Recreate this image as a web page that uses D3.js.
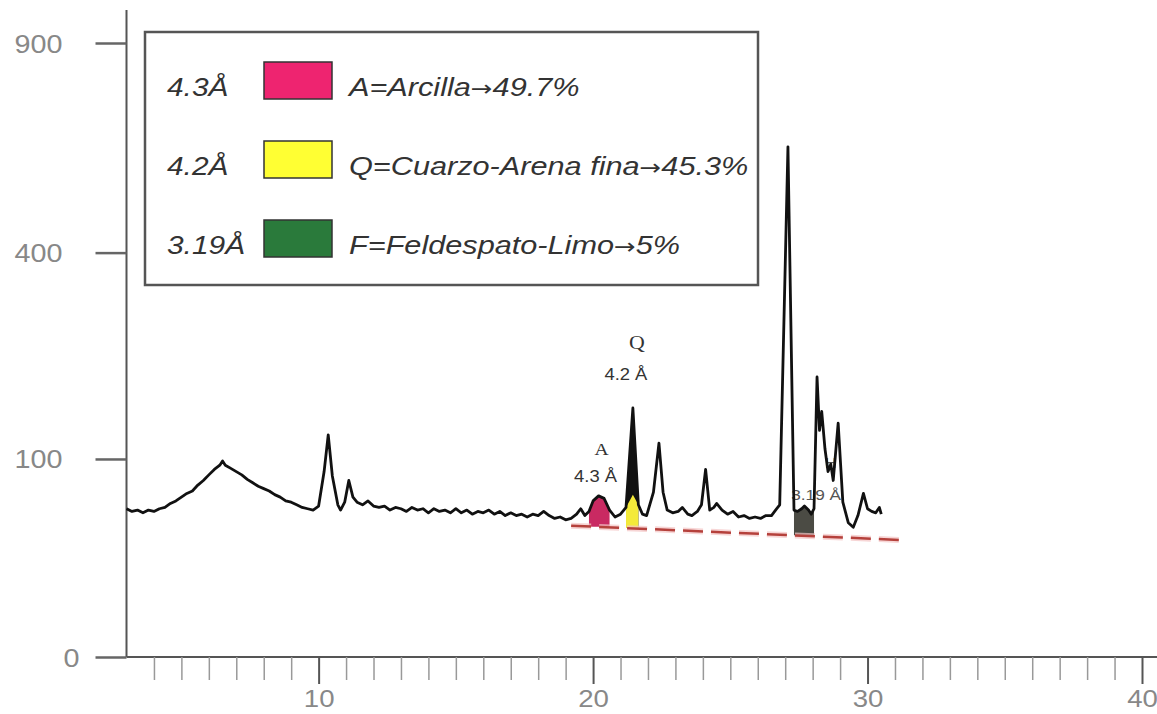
<!DOCTYPE html>
<html>
<head>
<meta charset="utf-8">
<script src="https://cdn.jsdelivr.net/npm/d3@7"></script>
<style>
  body { margin: 0; background: #fff; }
  svg { display: block; font-family: "Liberation Sans", Arial, sans-serif; }
</style>
</head>
<body>
<svg id="chart" width="1157" height="714"></svg>
<script>
// diffractogram (2θ, counts)
const twoTheta = [
  3.0, 3.2, 3.4, 3.6, 3.8, 4.0, 4.2, 4.4, 4.6, 4.8, 5.0, 5.2, 5.4, 5.6, 5.8,
  6.0, 6.2, 6.4, 6.5, 6.6, 6.8, 7.0, 7.2, 7.4, 7.6, 7.8, 8.0, 8.2, 8.4, 8.6,
  8.8, 9.0, 9.2, 9.4, 9.6, 9.8, 10.0, 10.2, 10.35, 10.5, 10.7, 10.8, 10.95, 11.1, 11.25,
  11.4, 11.6, 11.8, 12.0, 12.2, 12.4, 12.6, 12.8, 13.0, 13.2, 13.4, 13.6, 13.8, 14.0, 14.2,
  14.4, 14.6, 14.8, 15.0, 15.2, 15.4, 15.6, 15.8, 16.0, 16.2, 16.4, 16.6, 16.8, 17.0, 17.2,
  17.4, 17.6, 17.8, 18.0, 18.2, 18.4, 18.6, 18.8, 19.0, 19.2, 19.4, 19.55, 19.7, 19.85, 20.0,
  20.2, 20.4, 20.6, 20.8, 21.0, 21.2, 21.45, 21.65, 21.8, 21.95, 22.2, 22.4, 22.55, 22.7, 22.9,
  23.1, 23.25, 23.45, 23.6, 23.8, 23.95, 24.1, 24.25, 24.4, 24.5, 24.7, 24.9, 25.1, 25.3, 25.5,
  25.7, 25.9, 26.1, 26.3, 26.5, 26.65, 26.8, 27.1, 27.32, 27.45, 27.6, 27.7, 27.85, 27.95, 28.05,
  28.16, 28.25, 28.33, 28.45, 28.56, 28.66, 28.75, 28.93, 29.1, 29.3, 29.48, 29.65, 29.85, 30.0, 30.15,
  30.3, 30.43, 30.5
];
const counts = [
  57, 55, 56, 54, 56, 55, 57, 58, 61, 63, 66, 69, 71, 76, 80,
  85, 90, 94, 98, 94, 91, 88, 85, 81, 78, 75, 73, 71, 68, 66,
  63, 62, 60, 58, 57, 56, 59, 88, 125, 84, 60, 56, 62, 80, 66,
  62, 60, 63, 59, 58, 59, 56, 58, 57, 55, 58, 56, 57, 54, 57,
  55, 56, 54, 57, 54, 56, 53, 55, 54, 56, 53, 55, 52, 54, 52,
  53, 51, 53, 52, 55, 52, 50, 51, 49, 50, 53, 57, 52, 55, 63,
  67, 65, 56, 51, 53, 58, 156, 60, 53, 52, 70, 116, 70, 56, 54,
  55, 58, 53, 52, 55, 60, 90, 56, 58, 61, 56, 53, 55, 51, 52,
  50, 51, 50, 52, 52, 56, 60, 628, 56, 55, 57, 59, 56, 53, 57,
  196, 130, 152, 110, 88, 95, 80, 138, 62, 47, 44, 52, 69, 57, 55,
  54, 58, 53
];

// dashed background line under the peaks
const baseTheta = [19.2, 31.2];
const baseCounts = [45, 36];

// tick values
const yTickValues = [0, 100, 400, 900];
const xTickLabels = [10, 20, 30, 40];

// legend
const legendPeaks = ["4.3Å", "4.2Å", "3.19Å"];
const legendNames = [["A=Arcilla", "49.7%"], ["Q=Cuarzo-Arena fina", "45.3%"], ["F=Feldespato-Limo", "5%"]];
const legendColors = ["#ee2470", "#ffff33", "#2a7a3b"];

// shaded peaks: [from 2θ, to 2θ]
const peakRanges = [[19.85, 20.6], [21.2, 21.65], [27.32, 28.05]];
const peakFills = ["#c92a62", "#f4ea3a", "#4b4b44"];

const svg = d3.select("#chart");
const SX = 1.15; // glyphs in the picture are stretched sideways

const x = d3.scaleLinear().domain([3, 40]).range([126.5, 1142]);
const y = d3.scalePow().exponent(0.515).domain([0, 900]).range([657, 43]);

const data = twoTheta.map((t, i) => ({ t, c: counts[i] }));
const base = d3.scaleLinear().domain(baseTheta).range(baseCounts);

// ---- axes ----
const axisColor = "#555";

svg.append("line")
  .attr("x1", x(3)).attr("x2", x(3))
  .attr("y1", 10).attr("y2", y(0))
  .attr("stroke", axisColor).attr("stroke-width", 2);

svg.append("line")
  .attr("x1", x(3)).attr("x2", 1157)
  .attr("y1", y(0)).attr("y2", y(0))
  .attr("stroke", axisColor).attr("stroke-width", 2);

const yAxis = svg.append("g")
  .attr("transform", `translate(${x(3)},0)`)
  .call(d3.axisLeft(y).tickValues(yTickValues).tickSize(31).tickFormat(d3.format("d")));
yAxis.select(".domain").remove();
yAxis.selectAll(".tick line").attr("stroke", "#666").attr("stroke-width", 2.5);
yAxis.selectAll(".tick text")
  .attr("x", null).attr("dy", null)
  .attr("fill", "#888")
  .style("font-size", "25px")
  .attr("text-anchor", "end")
  .attr("transform", d => `translate(${d === 0 ? -47 : -64},9) scale(${SX},1)`);

const minorTicks = d3.range(4, 41).filter(v => !xTickLabels.includes(v));
const xMinor = svg.append("g")
  .attr("transform", `translate(0,${y(0)})`)
  .call(d3.axisBottom(x).tickValues(minorTicks).tickSize(23).tickFormat(""));
xMinor.select(".domain").remove();
xMinor.selectAll(".tick line").attr("stroke", "#999").attr("stroke-width", 1.5);

const xMajor = svg.append("g")
  .attr("transform", `translate(0,${y(0)})`)
  .call(d3.axisBottom(x).tickValues(xTickLabels).tickSize(27).tickFormat(d3.format("d")));
xMajor.select(".domain").remove();
xMajor.selectAll(".tick line").attr("stroke", "#555").attr("stroke-width", 2);
xMajor.selectAll(".tick text")
  .attr("y", null).attr("dy", null)
  .attr("fill", "#888")
  .style("font-size", "24px")
  .attr("text-anchor", "middle")
  .attr("transform", `translate(0,50) scale(${SX},1)`);

// ---- shaded peaks ----
const area = d3.area()
  .x(d => x(d.t))
  .y0(d => y(base(d.t)))
  .y1(d => y(d.c));

peakRanges.forEach((r, i) => {
  const pts = data.filter(d => d.t >= r[0] && d.t <= r[1]);
  if (i === 1) {
    // the narrow Q peak: dark above, yellow near the base
    svg.append("path").datum(pts).attr("d", area).attr("fill", "#111");
    const capped = pts.map(d => ({ t: d.t, c: Math.min(d.c, 68) }));
    svg.append("path").datum(capped).attr("d", area).attr("fill", peakFills[i]);
  } else {
    svg.append("path").datum(pts).attr("d", area).attr("fill", peakFills[i]);
  }
});

// ---- dashed background ----
const baseLine = d3.line().x(d => x(d[0])).y(d => y(d[1]));
const basePts = baseTheta.map((t, i) => [t, baseCounts[i]]);
svg.append("path").datum(basePts).attr("d", baseLine)
  .attr("fill", "none").attr("stroke", "#f3c4c4").attr("stroke-width", 6)
  .attr("stroke-dasharray", "20 8").attr("opacity", 0.7);
svg.append("path").datum(basePts).attr("d", baseLine)
  .attr("fill", "none").attr("stroke", "#b5413c").attr("stroke-width", 2.5)
  .attr("stroke-dasharray", "20 8");

// ---- peak annotations (drawn under the trace) ----
const note = (txt, t, px, py, size, family) =>
  svg.append("text")
    .attr("transform", `translate(${x(t) + px},${py}) scale(${SX},1)`)
    .attr("text-anchor", "middle")
    .attr("fill", "#333")
    .style("font-size", size + "px")
    .style("font-family", family)
    .text(txt);

note("Q", 21.45, 4, 349, 19, "'Liberation Serif', serif");
note("4.2 Å", 21.45, -7, 380, 16, "'Liberation Sans', sans-serif");
note("A", 20.2, 3, 455, 17, "'Liberation Serif', serif");
note("4.3 Å", 20.2, -3, 482, 16, "'Liberation Sans', sans-serif");
note("3.19 Å", 28.2, -2, 500, 15, "'Liberation Sans', sans-serif").attr("fill", "#555");
note("H", 28.66, 0, 468, 14, "'Liberation Sans', sans-serif").attr("fill", "#555");

// ---- trace ----
svg.append("path").datum(data)
  .attr("d", d3.line().x(d => x(d.t)).y(d => y(d.c)))
  .attr("fill", "none")
  .attr("stroke", "#111")
  .attr("stroke-width", 2.8)
  .attr("stroke-linejoin", "round");

// ---- legend ----
const LSX = 1.18;
const legend = svg.append("g");
legend.append("rect")
  .attr("x", 145).attr("y", 32)
  .attr("width", 613).attr("height", 253)
  .attr("fill", "#fff").attr("stroke", "#555").attr("stroke-width", 2.5);

legendNames.forEach((name, i) => {
  const cy = 80 + i * 79;
  legend.append("text")
    .attr("transform", `translate(167,${cy + 16}) scale(${SX},1)`)
    .attr("fill", "#333").style("font-size", "26px").style("font-style", "italic")
    .text(legendPeaks[i]);
  legend.append("rect")
    .attr("x", 264).attr("y", cy - 18)
    .attr("width", 68).attr("height", 37)
    .attr("fill", legendColors[i]).attr("stroke", "#333").attr("stroke-width", 1.5);
  const label = legend.append("text")
    .attr("transform", `translate(349,${cy + 16}) scale(${LSX},1)`)
    .attr("fill", "#333").style("font-size", "26px").style("font-style", "italic");
  label.append("tspan").text(name[0]);
  label.append("tspan")
    .style("font-family", "'DejaVu Sans', sans-serif")
    .style("font-style", "normal")
    .style("font-size", "22px")
    .text("→");
  label.append("tspan").text(name[1]);
});
</script>
</body>
</html>
